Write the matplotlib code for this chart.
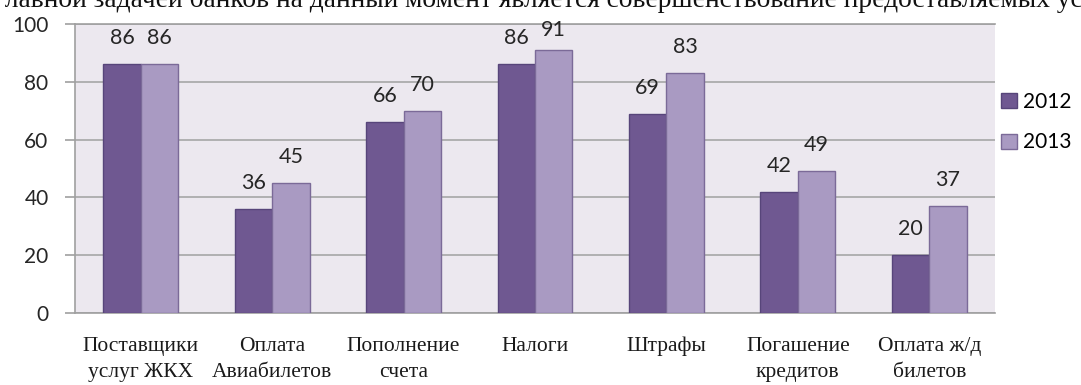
import matplotlib
matplotlib.use("Agg")
import matplotlib.pyplot as plt
import numpy as np

# Способы оплаты через банк, 2012 vs 2013
categories = ["Поставщики\nуслуг ЖКХ", "Оплата\nАвиабилетов", "Пополнение\nсчета",
              "Налоги", "Штрафы", "Погашение\nкредитов", "Оплата ж/д\nбилетов"]
values_2012 = [86, 36, 66, 86, 69, 42, 20]
values_2013 = [86, 45, 70, 91, 83, 49, 37]
years = ["2012", "2013"]
yticks = [0, 20, 40, 60, 80, 100]

header = ("Главной задачей банков на данный момент является "
          "совершенствование предоставляемых услуг")

NUM_FONT = "Lato"
CAT_FONT = "Liberation Serif"

fig = plt.figure(figsize=(10.81, 3.85), dpi=100)
ax = fig.add_axes([75 / 1081, 72 / 385, 920 / 1081, 289 / 385])
ax.set_facecolor("#ECE8EF")

x = np.arange(len(categories))
w = 0.285
b1 = ax.bar(x - w / 2, values_2012, w, color="#6F5891", edgecolor="#57457A",
            linewidth=1, label=years[0], zorder=3)
b2 = ax.bar(x + w / 2, values_2013, w, color="#A99AC2", edgecolor="#7B6A98",
            linewidth=1, label=years[1], zorder=3)

# подписи значений над столбцами (не выше верхней границы области)
for bars, vals in ((b1, values_2012), (b2, values_2013)):
    for rect, v in zip(bars, vals):
        ax.text(rect.get_x() + rect.get_width() / 2, min(v + 9, 97.8), str(v),
                ha="center", va="center", fontsize=15.5, family=NUM_FONT,
                color="#262626", zorder=4)

ax.set_xlim(-0.5, len(categories) - 0.5)
ax.set_ylim(0, 100)
ax.set_yticks(yticks)
ax.set_yticklabels([str(t) for t in yticks], family=NUM_FONT, fontsize=15,
                   color="#262626")
ax.tick_params(axis="y", length=7, width=1.2, color="#A0A0A0", pad=12)
ax.set_xticks(x)
ax.set_xticklabels(categories, family=CAT_FONT, fontsize=15.5, color="#1A1A1A",
                   linespacing=1.55)
ax.tick_params(axis="x", length=0, pad=17)

ax.grid(axis="y", color="#A6A6A6", linewidth=1.2, zorder=1)
ax.spines["right"].set_visible(False)
for side in ("left", "bottom", "top"):
    ax.spines[side].set_color("#A0A0A0")
    ax.spines[side].set_linewidth(1.2)

fig.legend(loc="center left", bbox_to_anchor=(1001 / 1081, 1 - 122 / 385),
           frameon=False, prop={"family": NUM_FONT, "size": 15},
           handlelength=0.75, handleheight=0.75, handletextpad=0.3,
           labelspacing=1.0, borderpad=0, borderaxespad=0)

# обрезанная строка текста над диаграммой
fig.text(-9 / 1081, 1 - 7 / 385, header, family=CAT_FONT, fontsize=19.8,
         ha="left", va="baseline", color="#111111")

fig.savefig("out.png", dpi=100)
